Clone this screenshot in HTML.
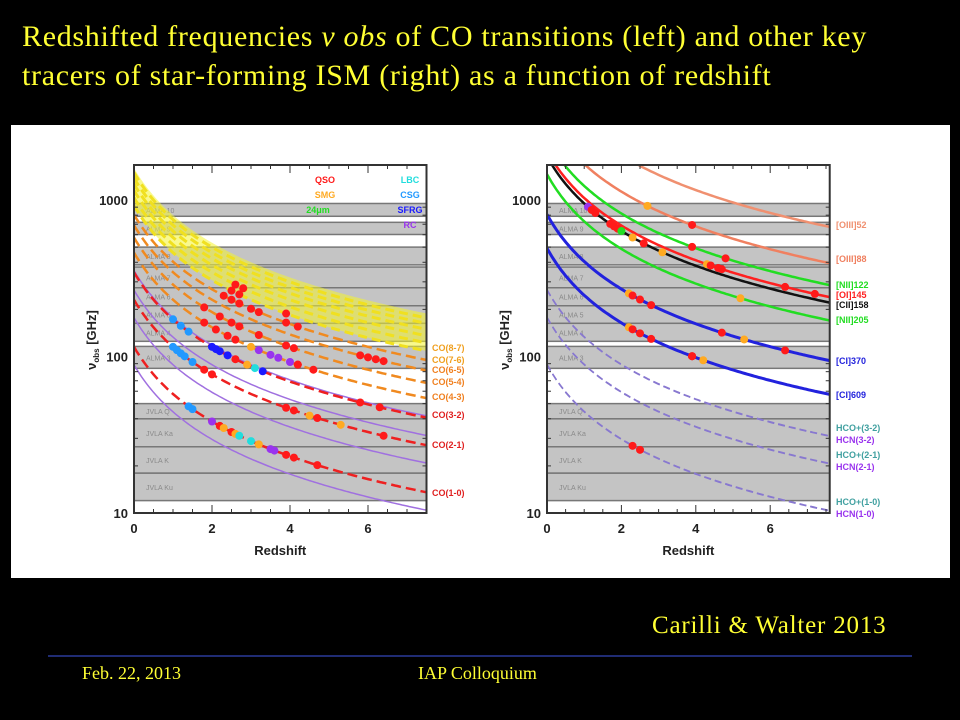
<!DOCTYPE html>
<html><head><meta charset="utf-8">
<style>
html,body{margin:0;padding:0;background:#000;width:960px;height:720px;overflow:hidden}
.t{font-family:"Liberation Serif",serif;fill:#ffff33}
.ax{font-family:"Liberation Sans",sans-serif;font-weight:bold;fill:#222}
.lab{font-family:"Liberation Sans",sans-serif;font-weight:bold;font-size:9px}
.bn{font-family:"Liberation Sans",sans-serif;font-size:7px;fill:#8a8a8a}
</style></head><body>
<svg id="s" width="960" height="720" xmlns="http://www.w3.org/2000/svg">
<text class="t" x="22" y="46" font-size="30" letter-spacing="0.7">Redshifted frequencies  <tspan font-style="italic">ν obs</tspan> of CO transitions (left) and other key</text>
<text class="t" x="22" y="85" font-size="30" letter-spacing="0.7">tracers of star-forming ISM (right) as a function of redshift</text>
<rect x="11" y="125" width="939" height="453" fill="#fff"/>
<g id="L"></g>
<g id="R"></g>
<text class="t" x="652" y="633" font-size="25" letter-spacing="0.8">Carilli &amp; Walter 2013</text>
<line x1="48" y1="656" x2="912" y2="656" stroke="#2a3a9a" stroke-width="1.5"/>
<text class="t" x="82" y="679" font-size="18">Feb. 22, 2013</text>
<text class="t" x="418" y="679" font-size="18">IAP Colloquium</text>
</svg>
<script>
// ---- data ----
const bandLo = [12, 18, 26.5, 40, 84, 125, 163, 211, 275, 385, 602, 787];
const bandHi = [18, 26.5, 40, 50, 116, 163, 211, 275, 373, 500, 720, 950];
const bandNames = ["JVLA Ku","JVLA K","JVLA Ka","JVLA Q","ALMA 3","ALMA 4","ALMA 5","ALMA 6","ALMA 7","ALMA 8","ALMA 9","ALMA 10"];
const coJ = [1,2,3,4,5,6,7];
const coRest = 115.27;
const yellowJ = [8,9,10,11,12,13];
const hcnJ = [1,2,3,4];
const hcnRest = 88.63;
const coLabels = ["CO(8-7)","CO(7-6)","CO(6-5)","CO(5-4)","CO(4-3)","CO(3-2)","CO(2-1)","CO(1-0)"];
const coLabelColors = ["#f0a020","#f0a020","#f08020","#f08020","#f08020","#e02020","#e02020","#e02020"];
const coLabelY = [348,360,370,382,397,415,445,493];
// left points: redshift, CO J, source class
const ptZ = [1.4,1.5,2.0,2.2,2.3,2.5,2.6,2.7,3.0,3.2,3.5,3.6,3.9,4.1,4.7,
  1.0,1.1,1.2,1.3,1.5,1.8,2.0,3.9,4.1,4.5,4.7,5.3,6.4,
  1.0,1.2,1.4,2.0,2.1,2.2,2.4,2.6,2.9,3.1,3.3,5.8,6.3,
  3.2,3.5,3.7,4.0,4.2,1.8,2.1,2.4,2.6,3.0,4.2,4.6,
  1.8,2.2,2.5,2.7,3.2,3.9,4.1,5.8,6.0,6.2,6.4,
  2.3,2.5,2.7,3.0,3.2,3.9,4.2,2.5,2.7,3.9,2.6,2.8];
const ptJ = [1,1,1,1,1,1,1,1,1,1,1,1,1,1,1,
  2,2,2,2,2,2,2,2,2,2,2,2,2,
  3,3,3,3,3,3,3,3,3,3,3,3,3,
  4,4,4,4,4,4,4,4,4,4,4,4,
  5,5,5,5,5,5,5,6,6,6,6,
  7,7,7,7,7,7,7,8,8,8,9,9];
const ptCls = ["CSG","CSG","RC","QSO","SMG","QSO","SMG","LBC","LBC","SMG","RC","RC","QSO","QSO","QSO",
  "CSG","CSG","CSG","CSG","CSG","QSO","QSO","QSO","QSO","SMG","QSO","SMG","QSO",
  "CSG","CSG","CSG","SFRG","SFRG","SFRG","SFRG","QSO","SMG","LBC","SFRG","QSO","QSO",
  "RC","RC","RC","RC","QSO","QSO","QSO","QSO","QSO","SMG","QSO","QSO",
  "QSO","QSO","QSO","QSO","QSO","QSO","QSO","QSO","QSO","QSO","QSO",
  "QSO","QSO","QSO","QSO","QSO","QSO","QSO","QSO","QSO","QSO","QSO","QSO"];
const clsName = ["QSO","SMG","24μm","LBC","CSG","SFRG","RC"];
const clsColor = ["#ff1a1a","#ffaa22","#22dd22","#22dddd","#2299ff","#1a1aff","#9933ee"];
// right: atomic lines
const lineRest = [5786, 3393, 2459, 2060, 1900.5, 1461, 809.3, 492.2];
const lineName = ["[OIII]52","[OIII]88","[NII]122","[OI]145","[CII]158","[NII]205","[CI]370","[CI]609"];
const lineColor = ["#f09070","#f08060","#22dd22","#ff2020","#111111","#22dd22","#2222dd","#2222dd"];
const lineLabelY = [225,259,285,295,305,320,361,395];
const hcnLabels = ["HCO+(3-2)","HCN(3-2)","HCO+(2-1)","HCN(2-1)","HCO+(1-0)","HCN(1-0)"];
const hcnLabelY = [428,440,455,467,502,514];
// right points: line index (into lineRest, or 8 = HCN(1-0)), redshift, class
const rpLine = [4,4,4,4,4,4,4,4,1,1,3,3,3,3,3,3,2,4,2,5,6,6,6,6,6,6,6,7,7,7,7,7,7,7,7,8,8,4];
const rpZ = [1.1,1.2,1.3,1.7,1.8,1.9,2.3,2.6,2.7,3.9,4.3,4.4,4.6,4.7,6.4,7.2,3.9,3.1,4.8,5.2,2.2,2.3,2.5,2.8,4.7,5.3,6.4,2.2,2.3,2.5,2.8,3.9,3.9,3.9,4.2,2.3,2.5,2.0];
const rpCls = ["RC","QSO","QSO","QSO","QSO","QSO","SMG","QSO","SMG","QSO","SMG","QSO","QSO","QSO","QSO","QSO","QSO","SMG","QSO","SMG","SMG","QSO","QSO","QSO","QSO","SMG","QSO","SMG","QSO","QSO","QSO","QSO","QSO","QSO","SMG","QSO","QSO","24μm"];

const NS="http://www.w3.org/2000/svg";
function mk(parent,tag,attrs){const e=document.createElementNS(NS,tag);for(const k in attrs)e.setAttribute(k,attrs[k]);parent.appendChild(e);return e;}
function yS(nu){return 513-(Math.log10(nu)-1)*156.5;}
function curve(x0,ppu,zmax,rest){let d="";for(let i=0;i<=120;i++){const z=zmax*i/120;const nu=rest/(1+z);let y=yS(nu);d+=(i?"L":"M")+(x0+z*ppu).toFixed(1)+","+Math.max(y,100).toFixed(1);}return d;}
function colOf(c){return clsColor[clsName.indexOf(c)];}

function frame(g,x0,ppu,zmax,clipId){
  const x1=x0+zmax*ppu;
  const cp=mk(g,"clipPath",{id:clipId});mk(cp,"rect",{x:x0,y:165,width:x1-x0,height:348});
  const inner=mk(g,"g",{"clip-path":"url(#"+clipId+")"});
  for(let i=0;i<bandLo.length;i++){
    const b=mk(inner,"rect",{x:x0,y:yS(bandHi[i]),width:x1-x0,height:yS(bandLo[i])-yS(bandHi[i]),fill:"#c4c4c4",stroke:"#777","stroke-width":1.5});
    
    
    const t=mk(inner,"text",{x:x0+12,y:(yS(bandHi[i])+yS(bandLo[i]))/2+3,class:"bn"});t.textContent=bandNames[i];
    
    
  }
  return inner;
}
function axes(g,x0,ppu,zmax){
  const x1=x0+zmax*ppu;
  const f=mk(g,"rect",{x:x0,y:165,width:x1-x0,height:348,fill:"none",stroke:"#333","stroke-width":2});
  
  
  [10,100,1000].forEach(v=>{const t=mk(g,"text",{x:x0-6,y:yS(v)+5,class:"ax","font-size":13,"text-anchor":"end"});t.textContent=v;
    
    });
  for(let d=10;d<=1000;d*=10)for(let k=2;k<10;k++){const v=d*k;if(v>1600)break;mk(g,"line",{x1:x0,x2:x0+4,y1:yS(v),y2:yS(v),stroke:"#333"});mk(g,"line",{x1:x1,x2:x1-4,y1:yS(v),y2:yS(v),stroke:"#333"});}
  [0,2,4,6].forEach(v=>{const t=mk(g,"text",{x:x0+v*ppu,y:533,class:"ax","font-size":13,"text-anchor":"middle"});t.textContent=v;
    
    });
  for(let z=0;z<=zmax;z+=0.5){const h=(z%2===0)?8:4;mk(g,"line",{x1:x0+z*ppu,x2:x0+z*ppu,y1:513,y2:513-h,stroke:"#333"});mk(g,"line",{x1:x0+z*ppu,x2:x0+z*ppu,y1:165,y2:165+h,stroke:"#333"});}
  const xt=mk(g,"text",{x:(x0+x1)/2,y:555,class:"ax","font-size":13,"text-anchor":"middle"});xt.textContent="Redshift";
  
  
  const yt=mk(g,"text",{x:0,y:0,class:"ax","font-size":13,"text-anchor":"middle",transform:"translate("+(x0-38)+",340) rotate(-90)"});
  yt.innerHTML='ν<tspan font-size="8" dy="3">obs</tspan><tspan dy="-3"> [GHz]</tspan>';
  
  
}

// ---- left chart ----
(function(){
  const g=document.getElementById("L");const x0=134,ppu=39,zm=7.5;
  const inner=frame(g,x0,ppu,zm,"cl");
  let d="";for(let i=0;i<=80;i++){const z=zm*i/80;d+=(i?"L":"M")+(x0+z*ppu)+","+Math.max(yS(1600/(1+z)),160);}
  for(let i=80;i>=0;i--){const z=zm*i/80;d+="L"+(x0+z*ppu)+","+yS(yellowJ[0]*coRest/(1+z));}
  const yb=mk(inner,"path",{d:d+"Z",fill:"#f4f430","fill-opacity":0.55});
  
  
  yellowJ.forEach(J=>{const p=mk(inner,"path",{d:curve(x0,ppu,zm,J*coRest),fill:"none",stroke:"#f0e020","stroke-width":3,"stroke-dasharray":"9,5"});
    
    });
  hcnJ.forEach(J=>{const p=mk(inner,"path",{d:curve(x0,ppu,zm,J*hcnRest),fill:"none",stroke:"#a070e0","stroke-width":1.5});
    
    });
  coJ.forEach(J=>{const c=J<=3?"#ee2020":"#f08a20";const p=mk(inner,"path",{d:curve(x0,ppu,zm,J*coRest),fill:"none",stroke:c,"stroke-width":2.5,"stroke-dasharray":"10,5"});
    
    });
  for(let i=0;i<ptZ.length;i++){const c=mk(inner,"circle",{cx:x0+ptZ[i]*ppu,cy:yS(ptJ[i]*coRest/(1+ptZ[i])),r:4,fill:colOf(ptCls[i])});
    
    }
  axes(g,x0,ppu,zm);
  const lx=[325,325,318,398,398,398,398],ly=[183,198,213,183,198,213,228];
  for(let i=0;i<clsName.length;i++){const t=mk(g,"text",{x:lx[i]+(i>=3?12:0),y:ly[i],class:"lab","font-size":11,fill:clsColor[i],"text-anchor":"middle"});t.textContent=clsName[i];
    
    }
  for(let i=0;i<coLabels.length;i++){const t=mk(g,"text",{x:432,y:coLabelY[i]+3,class:"lab",fill:coLabelColors[i]});t.textContent=coLabels[i];
    
    }
})();

// ---- right chart ----
(function(){
  const g=document.getElementById("R");const x0=547,ppu=37.2,zm=7.6;
  const inner=frame(g,x0,ppu,zm,"cr");
  hcnJ.slice(0,3).forEach(J=>{[hcnRest,89.19].forEach(r=>{const p=mk(inner,"path",{d:curve(x0,ppu,zm,J*r),fill:"none",stroke:"#8878d0","stroke-width":1.5,"stroke-dasharray":"7,4"});
    
    });});
  for(let i=0;i<lineRest.length;i++){const p=mk(inner,"path",{d:curve(x0,ppu,zm,lineRest[i]),fill:"none",stroke:lineColor[i],"stroke-width":i>=6?3:2.5});
    
    }
  for(let i=0;i<rpZ.length;i++){const r=rpLine[i]<8?lineRest[rpLine[i]]:hcnRest;const c=mk(inner,"circle",{cx:x0+rpZ[i]*ppu,cy:yS(r/(1+rpZ[i])),r:4,fill:colOf(rpCls[i])});
    
    }
  axes(g,x0,ppu,zm);
  for(let i=0;i<lineName.length;i++){const t=mk(g,"text",{x:836,y:lineLabelY[i]+3,class:"lab",fill:lineColor[i]});t.textContent=lineName[i];
    
    }
  for(let i=0;i<hcnLabels.length;i++){const t=mk(g,"text",{x:836,y:hcnLabelY[i]+3,class:"lab",fill:i%2?"#9933ee":"#40a0a0"});t.textContent=hcnLabels[i];
    
    }
})();
</script>
</body></html>
